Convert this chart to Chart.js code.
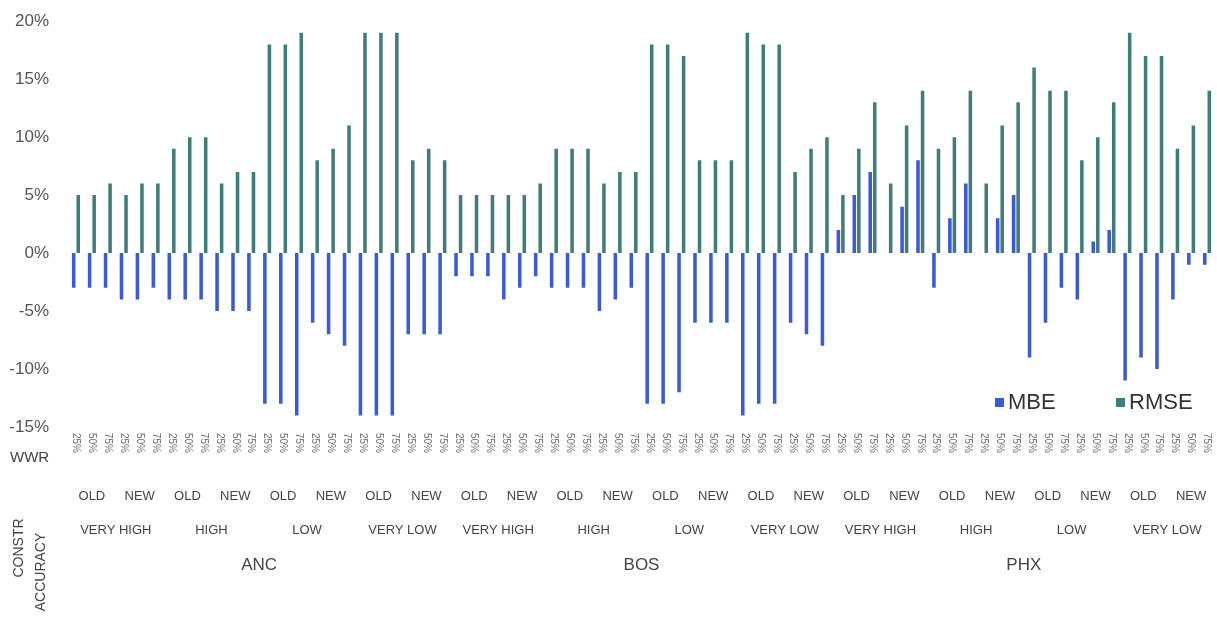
<!DOCTYPE html>
<html>
<head>
<meta charset="utf-8">
<script src="https://cdn.jsdelivr.net/npm/chart.js@4/dist/chart.umd.min.js"></script>
<style>
  html, body { margin: 0; padding: 0; background: #ffffff; }
  #wrap { width: 1217px; height: 618px; position: relative; }
  canvas { display: block; }
</style>
</head>
<body>
<div id="wrap"><canvas id="c" width="1217" height="618"></canvas></div>
<script>
// ---- Data ----
const cities = ['ANC', 'BOS', 'PHX'];
const accuracies = ['VERY HIGH', 'HIGH', 'LOW', 'VERY LOW'];
const constructions = ['OLD', 'NEW'];
const wwrLevels = ['25%', '50%', '75%'];
const yTicks = [-15, -10, -5, 0, 5, 10, 15, 20];

const mbeANC = [-3, -3, -3, -4, -4, -3,  -4, -4, -4, -5, -5, -5,  -13, -13, -14, -6, -7, -8,  -14, -14, -14, -7, -7, -7];
const mbeBOS = [-2, -2, -2, -4, -3, -2,  -3, -3, -3, -5, -4, -3,  -13, -13, -12, -6, -6, -6,  -14, -13, -13, -6, -7, -8];
const mbePHX = [2, 5, 7, 0, 4, 8,  -3, 3, 6, 0, 3, 5,  -9, -6, -3, -4, 1, 2,  -11, -9, -10, -4, -1, -1];

const rmseANC = [5, 5, 6, 5, 6, 6,  9, 10, 10, 6, 7, 7,  18, 18, 19, 8, 9, 11,  19, 19, 19, 8, 9, 8];
const rmseBOS = [5, 5, 5, 5, 5, 6,  9, 9, 9, 6, 7, 7,  18, 18, 17, 8, 8, 8,  19, 18, 18, 7, 9, 10];
const rmsePHX = [5, 9, 13, 6, 11, 14,  9, 10, 14, 6, 11, 13,  16, 14, 14, 8, 10, 13,  19, 17, 17, 9, 11, 14];

// ---- Build categories from the small arrays ----
const labels = [];
cities.forEach(c => accuracies.forEach(a => constructions.forEach(k => wwrLevels.forEach(w => labels.push([c, a, k, w])))));
const mbe = mbeANC.concat(mbeBOS, mbePHX);
const rmse = rmseANC.concat(rmseBOS, rmsePHX);

const MBE_COLOR = '#3a5ad8';
const RMSE_COLOR = '#3f7d79';
const FONT = '"Liberation Sans", Arial, sans-serif';

const groupLabels = {
  id: 'groupLabels',
  afterDraw(chart) {
    const ctx = chart.ctx;
    const xs = chart.scales.x;
    const area = chart.chartArea;
    const px = i => xs.getPixelForValue(i);
    const center = (s, n) => (px(s) + px(s + n - 1)) / 2;
    ctx.save();
    // WWR tick labels (rotated, reading top to bottom)
    ctx.fillStyle = '#6e6e78';
    ctx.font = '10px ' + FONT;
    ctx.textAlign = 'left';
    ctx.textBaseline = 'middle';
    labels.forEach((l, i) => {
      ctx.save();
      ctx.translate(px(i), area.bottom + 6);
      ctx.rotate(Math.PI / 2);
      ctx.fillText(l[3], 0, 0);
      ctx.restore();
    });
    // Row title "WWR"
    ctx.fillStyle = '#444';
    ctx.font = '15px ' + FONT;
    ctx.textAlign = 'left';
    ctx.fillText('WWR', 10, area.bottom + 31);
    // CONSTR / ACCURACY (vertical)
    ctx.font = '14px ' + FONT;
    ctx.textAlign = 'center';
    ctx.save();
    ctx.translate(19, area.bottom + 121);
    ctx.rotate(-Math.PI / 2);
    ctx.fillText('CONSTR', 0, 0);
    ctx.restore();
    ctx.save();
    ctx.translate(41, area.bottom + 145);
    ctx.rotate(-Math.PI / 2);
    ctx.fillText('ACCURACY', 0, 0);
    ctx.restore();
    // Construction row
    const nW = wwrLevels.length;
    const nK = constructions.length * nW;
    const nA = accuracies.length * nK;
    ctx.font = '13px ' + FONT;
    ctx.textAlign = 'center';
    for (let s = 0, j = 0; s < labels.length; s += nW, j++) {
      ctx.fillText(constructions[j % constructions.length], center(s, nW), area.bottom + 69);
    }
    // Accuracy row
    for (let s = 0, j = 0; s < labels.length; s += nK, j++) {
      ctx.fillText(accuracies[j % accuracies.length], center(s, nK), area.bottom + 103);
    }
    // City row
    ctx.font = '17px ' + FONT;
    cities.forEach((c, j) => {
      ctx.fillText(c, center(j * nA, nA), area.bottom + 138);
    });
    // Legend (inside plot area, bottom right)
    const items = chart.data.datasets.map(d => ({ text: d.label, color: d.backgroundColor }));
    const pos = [{ sq: area.right - 220, y: area.bottom - 24 }, { sq: area.right - 99, y: area.bottom - 24 }];
    ctx.textAlign = 'left';
    ctx.textBaseline = 'middle';
    ctx.font = '22px ' + FONT;
    items.forEach((it, k) => {
      ctx.fillStyle = it.color;
      ctx.fillRect(pos[k].sq, pos[k].y - 5, 9, 9);
      ctx.fillStyle = '#333';
      ctx.fillText(it.text, pos[k].sq + 13, pos[k].y);
    });
    ctx.restore();
  }
};

new Chart(document.getElementById('c'), {
  type: 'bar',
  data: {
    labels: labels.map(l => l[3]),
    datasets: [
      { label: 'MBE', data: mbe, backgroundColor: MBE_COLOR, categoryPercentage: 0.57, barPercentage: 0.78 },
      { label: 'RMSE', data: rmse, backgroundColor: RMSE_COLOR, categoryPercentage: 0.57, barPercentage: 0.78 }
    ]
  },
  options: {
    responsive: false,
    animation: false,
    devicePixelRatio: 1,
    layout: { padding: { top: 11, right: 2, left: 0, bottom: 0 } },
    plugins: { legend: { display: false }, tooltip: { enabled: false } },
    scales: {
      x: {
        grid: { display: false },
        border: { display: false },
        ticks: { display: false },
        afterFit(s) { s.height = 191; }
      },
      y: {
        min: yTicks[0],
        max: yTicks[yTicks.length - 1],
        afterBuildTicks(s) { s.ticks = yTicks.map(v => ({ value: v })); },
        grid: { display: false },
        border: { display: false },
        ticks: {
          callback: v => v + '%',
          color: '#555',
          font: { size: 17, family: FONT },
          padding: 11
        },
        afterFit(s) { s.width = 68; }
      }
    }
  },
  plugins: [groupLabels]
});
</script>
</body>
</html>
